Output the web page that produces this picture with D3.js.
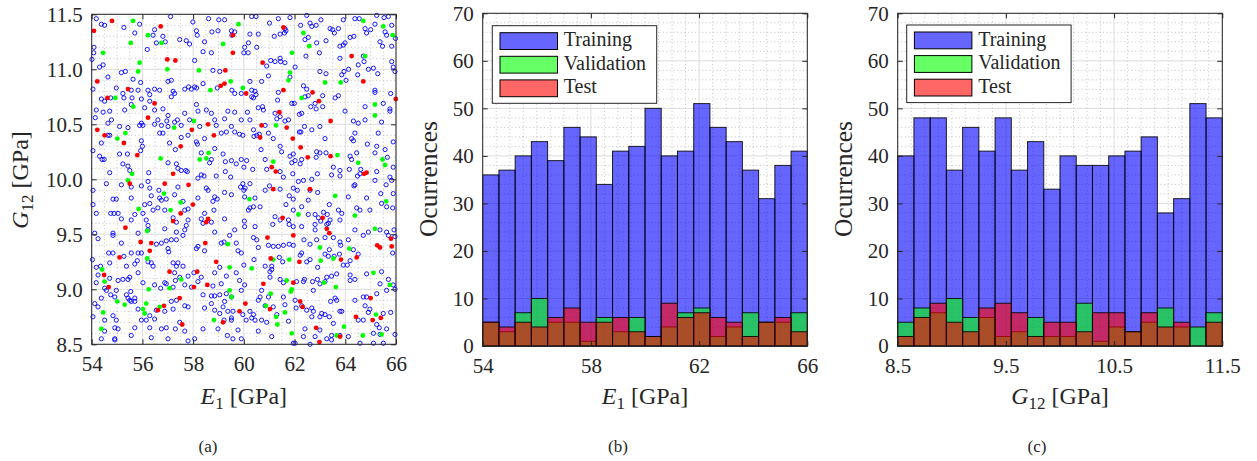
<!DOCTYPE html>
<html>
<head>
<meta charset="utf-8">
<script src="https://cdn.jsdelivr.net/npm/d3@7"></script>
<style>
  body { margin: 0; background: #fff; }
  svg text { font-family: "Liberation Serif", "DejaVu Serif", serif; }
</style>
</head>
<body>
<svg id="fig" width="1257" height="461"></svg>
<script>
// ---------- data ----------
// Sample points [E1, G12] in GPa
const trainingPoints = [
  [54.18,11.46],[54.38,11.41],[54.51,11.40],[54.09,11.20],[54.08,11.15],[54.01,11.09],[54.45,11.04],[54.31,11.02],[55.27,11.38],[55.89,11.41],[55.70,11.33],[56.48,11.36],[56.42,11.31],[56.81,11.30],[56.90,11.25],[56.55,11.24],[56.19,11.18],[57.11,11.48],[57.47,11.27],[57.73,11.26],[57.86,11.23],[57.99,11.43],[58.13,11.35],[58.16,11.31],[58.45,11.25],[58.61,11.46],[58.74,11.34],[58.98,11.35],[59.01,11.45],[59.24,11.45],[59.51,11.35],[59.53,11.31],[59.64,11.34],[60.03,11.20],[60.00,11.15],[58.39,11.16],[58.72,11.15],[58.06,11.08],[58.78,10.99],[59.05,10.98],[55.17,10.97],[55.33,10.98],[55.63,10.91],[54.64,10.93],[54.05,10.82],[54.97,10.83],[55.56,10.81],[55.83,10.81],[55.93,10.88],[56.22,10.81],[56.68,10.81],[57.21,10.80],[57.67,10.82],[57.82,10.84],[57.93,10.82],[58.06,10.84],[58.14,10.83],[58.39,10.87],[58.95,10.83],[59.53,10.81],[59.64,10.78],[59.90,10.78],[57.01,10.89],[57.14,10.90],[54.38,10.73],[54.51,10.71],[54.75,10.74],[55.23,10.78],[55.27,10.74],[55.59,10.74],[55.96,10.73],[56.29,10.77],[56.29,10.71],[56.48,10.82],[57.14,10.75],[57.27,10.78],[54.18,10.63],[54.45,10.61],[54.71,10.62],[54.78,10.54],[54.14,10.56],[54.64,10.51],[55.30,10.63],[55.56,10.68],[56.09,10.65],[56.48,10.63],[56.81,10.64],[57.01,10.58],[56.96,10.53],[57.27,10.52],[57.38,10.54],[57.67,10.60],[58.13,10.68],[58.19,10.62],[57.86,10.54],[58.52,10.63],[58.72,10.60],[58.85,10.54],[59.24,10.55],[59.37,10.62],[59.64,10.61],[59.90,10.54],[55.96,10.51],[56.61,10.54],[56.48,10.50],
  [60.31,11.48],[60.48,11.48],[61.01,11.42],[61.36,11.46],[61.82,11.47],[62.48,11.49],[62.24,11.40],[62.61,11.42],[62.68,11.39],[62.85,11.40],[63.04,11.45],[63.40,11.37],[63.50,11.36],[63.57,11.33],[63.73,11.37],[63.92,11.45],[64.38,11.46],[64.55,11.46],[64.78,11.37],[64.84,11.33],[65.00,11.36],[65.17,11.41],[65.24,11.49],[65.53,11.47],[65.70,11.48],[65.57,11.34],[65.63,11.31],[65.83,11.40],[65.98,11.28],[60.24,11.32],[60.57,11.32],[61.20,11.30],[61.43,11.32],[61.60,11.33],[61.62,11.37],[61.66,11.35],[62.41,11.27],[62.54,11.29],[62.87,11.24],[63.24,11.26],[63.79,11.21],[63.92,11.22],[63.99,11.24],[64.19,11.29],[64.34,11.30],[65.37,11.25],[65.47,11.21],[65.83,11.21],[60.18,11.24],[60.51,11.20],[60.17,11.15],[61.06,11.08],[61.23,11.07],[61.43,11.10],[61.45,11.07],[61.62,11.06],[60.90,11.03],[62.45,11.12],[62.98,11.15],[63.79,11.10],[64.71,11.12],[64.74,11.07],[64.51,11.04],[64.91,11.00],[65.11,11.01],[65.28,10.96],[65.83,11.07],[65.89,11.02],[65.96,10.98],[62.02,11.02],[61.82,10.93],[60.97,10.94],[60.70,10.89],[60.24,10.89],[63.00,10.98],[63.24,10.96],[63.86,10.95],[63.95,10.98],[64.13,11.00],[64.03,10.90],[64.49,10.95],[62.48,10.82],[62.35,10.85],[60.31,10.81],[60.44,10.80],[60.48,10.77],[60.31,10.75],[60.38,10.74],[61.36,10.79],[61.33,10.72],[61.89,10.69],[61.99,10.69],[62.41,10.75],[62.54,10.76],[63.11,10.76],[63.60,10.74],[63.73,10.76],[62.81,10.69],[62.64,10.66],[62.85,10.64],[63.11,10.66],[62.28,10.60],[62.19,10.59],[61.76,10.54],[61.62,10.53],[61.43,10.57],[61.23,10.60],[61.30,10.55],[60.57,10.65],[60.74,10.66],[60.77,10.63],[60.14,10.61],[60.24,10.54],[60.84,10.49],[63.99,10.62],[64.32,10.53],[64.51,10.51],[65.17,10.81],[65.17,10.79],[65.79,10.78],[65.50,10.69],[65.76,10.64],[65.76,10.62],[65.43,10.52],[64.78,10.54],[64.78,10.66],
  [55.10,10.48],[55.43,10.47],[55.89,10.49],[56.02,10.49],[56.75,10.49],[57.01,10.48],[57.53,10.49],[58.26,10.48],[58.91,10.49],[59.51,10.48],[59.11,10.42],[59.31,10.43],[59.64,10.43],[59.83,10.41],[59.96,10.40],[54.64,10.40],[54.71,10.40],[54.38,10.33],[54.05,10.26],[54.31,10.21],[54.41,10.18],[54.49,10.18],[55.10,10.23],[55.41,10.23],[55.96,10.35],[56.00,10.30],[55.93,10.26],[56.68,10.42],[56.81,10.42],[57.07,10.33],[57.30,10.27],[57.53,10.38],[57.80,10.40],[58.13,10.34],[58.17,10.32],[58.45,10.37],[58.32,10.24],[58.85,10.28],[59.18,10.23],[59.27,10.16],[59.51,10.17],[59.70,10.14],[59.90,10.18],[60.00,10.11],[58.72,10.18],[58.65,10.15],[58.32,10.04],[58.43,10.03],[58.91,10.03],[59.27,10.07],[59.48,10.02],[57.34,10.14],[57.40,10.10],[57.53,10.08],[57.71,10.08],[57.77,10.07],[57.01,10.15],[55.23,10.14],[55.43,10.12],[55.50,10.08],[56.25,10.06],[54.71,10.06],[54.58,9.96],[55.17,9.95],[55.56,9.93],[55.96,9.94],[56.22,9.98],[56.29,9.92],[57.40,9.93],[56.65,9.90],[58.19,10.01],[58.52,9.92],[58.59,9.90],[58.85,9.84],[58.95,9.82],[59.24,9.88],[59.51,9.86],[59.87,9.93],[59.96,9.96],[60.00,9.90],[60.03,9.84],[54.05,9.90],[54.05,9.77],[54.84,9.82],[54.97,9.82],[55.56,9.83],[56.35,9.85],[56.68,9.83],[56.75,9.81],[56.94,9.82],[57.27,9.86],[56.09,9.77],[56.29,9.78],[56.42,9.72],[56.61,9.74],[58.19,9.83],[57.80,9.73],[57.60,9.80],[57.67,9.72],[58.78,9.80],[58.82,9.72],[58.45,9.69],[54.18,9.69],[54.75,9.69],[54.88,9.69],[55.04,9.69],[55.17,9.64],[55.56,9.63],[55.70,9.68],[56.02,9.69],[56.15,9.63],[56.22,9.58],[56.88,9.72],[57.21,9.65],[57.34,9.61],[57.80,9.63],[58.32,9.64],[58.39,9.60],[58.72,9.61],[59.24,9.64],[60.03,9.57],[54.12,9.51],[54.84,9.51],[55.83,9.51],[56.22,9.54],[56.88,9.55],[57.34,9.52],[57.67,9.54],[57.73,9.58],[58.85,9.52],[59.64,9.54],
  [60.38,10.45],[60.40,10.39],[60.51,10.40],[60.61,10.41],[61.16,10.37],[61.43,10.30],[61.49,10.25],[60.68,10.27],[60.97,10.42],[61.82,10.21],[61.95,10.23],[61.89,10.15],[62.02,10.17],[62.22,10.14],[62.28,10.18],[62.19,10.43],[62.25,10.43],[62.39,10.48],[62.68,10.45],[63.00,10.48],[63.20,10.37],[62.87,10.25],[63.00,10.24],[63.24,10.24],[62.85,10.20],[63.53,10.11],[63.79,10.08],[63.46,10.04],[63.79,10.03],[62.90,10.05],[62.68,10.00],[62.35,9.99],[62.15,9.98],[61.93,10.05],[61.56,10.02],[61.43,10.07],[60.90,10.09],[60.84,10.18],[60.35,10.09],[60.11,10.17],[60.24,9.96],[60.05,9.92],[60.84,9.90],[61.01,9.94],[61.43,9.91],[61.95,9.92],[62.11,9.90],[62.61,9.90],[62.91,9.88],[62.54,9.81],[61.95,9.82],[61.79,9.85],[60.44,9.83],[60.38,9.75],[60.24,9.74],[60.18,9.72],[60.64,9.75],[61.66,9.77],[61.95,9.72],[62.28,9.75],[62.54,9.68],[62.81,9.68],[62.94,9.65],[63.03,9.62],[62.81,9.59],[63.29,9.68],[63.37,9.77],[63.40,9.63],[63.33,9.60],[63.14,9.70],[63.73,9.72],[63.86,9.69],[64.12,9.84],[64.45,9.74],[64.58,9.72],[64.97,9.72],[64.84,9.83],[65.40,9.87],[65.43,9.78],[65.63,9.75],[65.87,9.74],[65.83,9.99],[65.61,9.95],[65.89,9.87],[65.89,10.11],[65.66,10.20],[65.57,10.27],[65.24,10.30],[65.17,10.24],[64.87,10.32],[64.45,10.24],[64.25,10.37],[64.32,10.35],[64.38,10.42],[65.30,10.42],[65.89,10.34],[64.19,10.21],[64.25,10.18],[64.16,10.09],[64.48,10.03],[64.58,10.05],[64.61,10.09],[64.38,9.95],[64.34,9.94],[65.17,9.99],[65.24,10.07],[65.76,10.02],[61.23,9.66],[61.43,9.63],[61.76,9.63],[61.95,9.57],[62.28,9.57],[62.81,9.54],[63.27,9.59],[60.02,9.62],[60.44,9.57],[61.14,9.59],[64.38,9.54],[64.91,9.52],[65.37,9.54],[65.63,9.52],[65.92,9.54],[63.79,9.63],[61.79,9.59],
  [54.84,9.49],[55.17,9.42],[57.14,9.45],[57.34,9.45],[57.60,9.49],[57.01,9.37],[57.04,9.34],[54.25,9.46],[54.67,9.33],[54.84,9.33],[55.56,9.33],[55.83,9.33],[55.96,9.33],[55.27,9.30],[54.03,9.27],[54.18,9.20],[54.25,9.13],[54.35,9.21],[54.71,9.24],[55.37,9.21],[55.70,9.23],[55.80,9.26],[56.22,9.25],[56.35,9.24],[56.42,9.21],[56.55,9.41],[56.75,9.42],[56.94,9.44],[55.83,9.15],[55.50,9.11],[55.43,9.09],[55.23,9.09],[55.04,9.08],[54.71,9.10],[54.18,9.06],[54.51,9.01],[54.58,8.99],[54.97,8.99],[55.54,8.98],[56.02,9.06],[56.48,9.04],[56.72,9.01],[56.88,9.06],[56.94,9.05],[57.21,9.24],[57.34,9.21],[57.40,9.24],[57.60,9.21],[57.80,9.12],[58.03,9.15],[57.27,9.15],[57.30,9.08],[57.47,9.11],[57.21,9.02],[57.67,9.04],[57.93,9.02],[58.19,9.07],[58.32,9.11],[58.19,9.39],[58.45,9.35],[58.13,9.37],[59.11,9.42],[59.22,9.43],[59.44,9.49],[59.70,9.42],[59.77,9.35],[59.90,9.33],[60.00,9.22],[59.70,9.15],[59.83,9.08],[59.05,9.20],[58.85,9.15],[59.31,9.12],[59.11,9.05],[58.78,9.03],[58.39,8.95],[58.72,8.94],[58.85,8.94],[59.05,8.95],[59.31,8.96],[59.24,8.89],[59.51,8.93],[59.90,8.99],[60.03,9.04],[54.38,8.92],[54.75,8.95],[54.91,8.93],[55.37,8.95],[55.43,8.92],[55.50,8.90],[55.56,8.89],[55.70,8.89],[55.83,8.82],[55.70,8.92],[54.25,8.84],[54.12,8.87],[54.05,8.75],[54.84,8.76],[54.97,8.72],[54.51,8.72],[54.91,8.65],[55.04,8.64],[55.70,8.65],[55.96,8.72],[56.15,8.72],[56.29,8.76],[56.48,8.73],[56.55,8.81],[56.88,8.80],[57.21,8.82],[57.14,8.89],[57.34,8.90],[57.67,8.85],[57.80,8.84],[58.45,8.83],[58.72,8.87],[58.85,8.81],[59.05,8.78],[59.18,8.84],[59.37,8.80],[59.57,8.80],[59.51,8.72],[59.96,8.77],[56.29,8.65],[56.75,8.64],[56.94,8.65],[57.01,8.55],[57.30,8.64],[57.67,8.62],[57.47,8.70],[58.39,8.64],[58.98,8.64],[59.22,8.72],[59.51,8.74],[59.77,8.63],[59.35,8.58],[59.57,8.55],[59.90,8.55],[58.06,8.55],[57.80,8.53],[56.35,8.56],[55.56,8.58],[54.91,8.55],[54.91,8.54],[54.51,8.62],[54.38,8.55],
  [60.38,9.47],[60.51,9.45],[60.57,9.38],[60.97,9.40],[61.16,9.39],[61.36,9.39],[61.56,9.40],[61.79,9.41],[61.95,9.40],[62.37,9.45],[62.61,9.41],[62.87,9.45],[63.20,9.47],[63.53,9.47],[63.79,9.43],[63.82,9.40],[64.12,9.45],[64.71,9.49],[64.32,9.36],[64.51,9.32],[65.70,9.49],[65.96,9.48],[65.87,9.33],[60.40,9.27],[60.84,9.21],[61.10,9.21],[61.03,9.16],[61.40,9.29],[61.53,9.25],[62.22,9.31],[62.28,9.33],[62.48,9.25],[62.61,9.27],[62.91,9.20],[63.20,9.32],[63.33,9.30],[63.37,9.36],[63.56,9.30],[63.77,9.32],[63.92,9.22],[64.19,9.26],[64.08,9.22],[63.66,9.14],[63.46,9.12],[63.27,9.11],[63.20,9.07],[62.90,9.09],[62.71,9.07],[63.00,9.05],[62.39,9.09],[62.35,9.07],[62.08,9.07],[61.56,9.06],[61.43,9.09],[61.03,9.11],[61.10,9.18],[60.70,8.99],[60.64,8.93],[60.57,8.90],[60.97,8.93],[60.84,8.85],[60.38,8.77],[60.31,8.74],[60.44,8.72],[60.70,8.72],[60.24,8.80],[60.09,8.72],[61.16,8.84],[61.30,8.77],[61.62,8.86],[62.02,8.90],[62.28,8.85],[62.06,8.83],[62.48,8.81],[62.68,8.83],[62.74,8.80],[62.68,8.75],[63.00,8.75],[63.07,8.78],[63.20,8.77],[63.37,8.75],[63.42,8.89],[63.60,8.92],[63.66,8.90],[63.79,8.80],[63.86,8.80],[63.53,8.69],[63.00,8.63],[62.41,8.64],[62.35,8.57],[61.95,8.51],[62.02,8.51],[62.61,8.50],[63.27,8.55],[63.46,8.58],[63.79,8.58],[64.12,8.57],[60.90,8.70],[60.57,8.62],[61.10,8.57],[64.19,9.13],[64.19,9.08],[64.38,9.09],[64.84,9.14],[65.43,9.16],[65.70,9.09],[65.89,9.04],[65.96,9.00],[65.37,9.05],[65.63,8.99],[65.24,8.96],[64.84,8.93],[64.71,8.93],[64.38,8.90],[64.78,8.85],[64.97,8.82],[64.71,8.72],[64.51,8.72],[64.91,8.79],[65.50,8.78],[65.79,8.79],[65.24,8.68],[65.34,8.65],[65.63,8.64],[65.37,8.59],[65.11,8.60],[65.96,8.59],[64.58,8.51],[65.11,8.51],[65.50,8.51],[63.46,8.54],[62.81,8.57],[61.76,8.71],[61.56,8.93],[62.74,8.99]
];
const validationPoints = [
  [55.63,11.44],[59.79,11.41],[56.22,11.31],[55.54,11.24],[56.75,11.24],[59.18,11.23],[54.45,11.15],[55.89,11.06],[55.83,10.98],[56.98,11.00],[58.23,10.99],[59.48,10.89],[59.96,10.83],[58.68,10.81],[54.93,10.74],[55.64,10.66],[58.03,10.53],
  [62.35,11.33],[65.87,11.31],[65.50,11.39],[64.71,11.44],[62.58,11.21],[61.90,11.15],[64.78,11.12],[61.82,10.97],[61.76,10.90],[63.20,10.88],[63.82,10.88],[62.28,10.74],[65.17,10.68],[65.17,10.58],[61.27,10.49],
  [55.33,10.42],[55.01,10.37],[57.25,10.47],[56.72,10.19],[55.59,10.05],[55.43,9.99],[58.26,10.18],[58.52,10.19],[58.61,10.24],[56.85,9.87],[57.51,9.79],[57.11,9.72],[55.85,9.73],[56.19,9.53],
  [63.69,10.22],[64.51,10.15],[65.47,10.18],[65.57,10.13],[61.16,10.16],[63.60,9.85],[60.22,9.82],[65.61,9.80],[64.38,9.67],[62.15,9.68],[65.17,9.55],
  [59.37,9.41],[56.19,9.28],[54.41,9.18],[54.51,9.07],[57.53,9.09],[56.25,9.00],[57.07,9.01],[59.44,9.20],[59.44,8.99],[59.51,8.93],[55.01,8.89],[55.30,8.86],[56.15,8.87],[56.68,8.84],[56.02,8.82],[56.09,8.78],[54.45,8.79],[58.82,8.72],[54.38,8.64],
  [63.00,9.38],[64.16,9.37],[60.31,9.19],[61.16,9.27],[61.79,9.27],[63.03,9.26],[63.53,9.28],[65.11,9.15],[61.69,9.08],[63.16,9.06],[65.76,9.04],[63.63,9.02],[61.89,9.00],[61.85,8.98],[61.06,8.96],[60.87,8.85],[61.27,8.75],[61.62,8.79],[65.21,8.77],[61.32,8.68],[61.89,8.60],[63.95,8.66],[63.66,8.58],[64.69,8.58],[65.43,8.59]
];
const testPoints = [
  [54.80,11.44],[54.09,11.35],[56.72,11.39],[59.57,11.31],[56.98,11.09],[57.30,11.08],[59.27,10.99],[54.22,10.89],[55.43,10.82],[54.62,10.74],[56.48,10.69],[56.22,10.56],[58.59,10.50],[59.09,10.85],[59.24,10.87],[59.57,11.15],
  [61.56,11.38],[60.74,11.06],[64.25,11.12],[64.71,10.89],[61.56,10.81],[62.71,10.79],[60.09,10.78],[62.96,10.71],[61.40,10.61],[63.42,10.53],[65.99,10.73],[60.70,10.49],
  [54.22,10.45],[54.51,10.40],[55.27,10.33],[55.80,10.22],[57.95,10.45],[58.82,10.40],[57.51,10.30],[57.21,10.05],[55.50,9.96],[56.88,9.96],[57.82,9.95],[57.99,9.77],[57.51,9.69],[57.21,9.62],[58.59,9.64],[58.52,9.61],[55.33,9.56],
  [61.69,10.47],[60.64,10.38],[61.93,10.37],[62.24,10.29],[62.52,10.20],[63.42,10.21],[61.10,10.11],[61.26,10.07],[64.84,10.06],[64.74,10.05],[61.16,9.91],[62.61,9.91],[61.53,9.65],[63.11,9.65],[63.27,9.55],[63.37,9.51],[61.95,9.49],
  [55.93,9.43],[56.35,9.42],[56.29,9.35],[55.10,9.29],[58.48,9.42],[58.91,9.25],[57.07,9.16],[58.16,9.16],[54.49,9.13],[54.67,9.02],[58.56,9.04],[58.03,9.02],[57.47,8.92],[56.85,8.85],[56.61,8.81],[57.57,8.68],[59.18,8.70],[60.06,8.87],[59.83,8.80],
  [60.93,9.47],[61.06,9.28],[62.19,9.25],[63.83,9.27],[64.45,9.29],[65.26,9.40],[65.37,9.38],[65.83,9.39],[65.80,9.46],[60.77,9.05],[61.95,9.06],[61.03,8.82],[62.22,8.89],[62.32,8.84],[64.42,8.75],[65.00,8.92],[65.08,8.72],[65.40,8.74],[62.85,8.65],[63.79,8.57],[62.98,8.52]
];

// Histogram bins and counts
const e1BinEdges  = [54,54.6,55.2,55.8,56.4,57,57.6,58.2,58.8,59.4,60,60.6,61.2,61.8,62.4,63,63.6,64.2,64.8,65.4,66];
const e1Training   = [36,37,40,43,39,46,44,34,41,42,50,40,41,51,46,43,37,31,38,41];
const e1Validation = [5,3,7,10,5,5,1,6,3,6,2,4,7,8,2,4,7,5,5,7];
const e1Test       = [5,4,5,4,6,8,5,5,6,3,2,9,6,7,6,5,2,5,6,3];

const g12BinEdges  = [8.5,8.65,8.8,8.95,9.1,9.25,9.4,9.55,9.7,9.85,10,10.15,10.3,10.45,10.6,10.75,10.9,11.05,11.2,11.35,11.5];
const g12Training   = [40,48,48,37,46,41,48,37,43,33,40,38,38,40,41,44,28,31,51,48];
const g12Validation = [5,8,7,10,6,6,2,3,6,2,2,9,1,4,3,5,8,4,4,7];
const g12Test       = [2,6,9,5,3,8,9,7,2,5,5,3,7,7,3,7,4,5,0,5];

const seriesNames = ["Training", "Validation", "Test"];

const e1Ticks  = [54,56,58,60,62,64,66];
const g12Ticks = [8.5,9.0,9.5,10.0,10.5,11.0,11.5];
const e1HistTicks  = [54,58,62,66];
const g12HistTicks = [8.5,9.5,10.5,11.5];
const countTicks   = [0,10,20,30,40,50,60,70];

// ---------- drawing ----------
const svg = d3.select("#fig");
const ink = "#262626";
const fills = ["#0000ff", "#00ff00", "#ff0000"];
const fontFam = '"Liberation Serif", "DejaVu Serif", serif';

function drawGrid(x, y, xMajor, yMajor, xMinor, yMinor) {
  const g = svg.append("g");
  const [xa, xb] = x.range(), [ya, yb] = y.range();
  const minor = g.append("g").attr("stroke", "#b4b4b4").attr("stroke-width", 0.8)
    .attr("stroke-dasharray", "1 2.6");
  minor.selectAll("line.vx").data(xMinor).join("line")
    .attr("x1", d => x(d)).attr("x2", d => x(d)).attr("y1", ya).attr("y2", yb);
  minor.selectAll("line.hy").data(yMinor).join("line")
    .attr("y1", d => y(d)).attr("y2", d => y(d)).attr("x1", xa).attr("x2", xb);
  const major = g.append("g").attr("stroke", "#dcdcdc").attr("stroke-width", 1);
  major.selectAll("line.vx").data(xMajor).join("line")
    .attr("x1", d => x(d)).attr("x2", d => x(d)).attr("y1", ya).attr("y2", yb);
  major.selectAll("line.hy").data(yMajor).join("line")
    .attr("y1", d => y(d)).attr("y2", d => y(d)).attr("x1", xa).attr("x2", xb);
}

function drawFrame(x, y, xTicks, yTicks, xFmt, yFmt) {
  const [xa, xb] = x.range(), [ya, yb] = y.range();
  const g = svg.append("g").attr("color", ink);
  const style = sel => {
    sel.attr("font-family", fontFam).attr("font-size", 21);
    sel.select(".domain").remove();
    sel.selectAll(".tick line").attr("stroke-width", 1);
  };
  g.append("g").attr("transform", `translate(0,${ya})`)
    .call(d3.axisBottom(x).tickValues(xTicks).tickFormat(xFmt).tickSize(-5).tickPadding(12)).call(style);
  g.append("g").attr("transform", `translate(0,${yb})`)
    .call(d3.axisTop(x).tickValues(xTicks).tickFormat("").tickSize(-5)).call(style);
  g.append("g").attr("transform", `translate(${xa},0)`)
    .call(d3.axisLeft(y).tickValues(yTicks).tickFormat(yFmt).tickSize(-5).tickPadding(9)).call(style);
  g.append("g").attr("transform", `translate(${xb},0)`)
    .call(d3.axisRight(y).tickValues(yTicks).tickFormat("").tickSize(-5)).call(style);
  g.append("rect").attr("x", xa).attr("y", yb).attr("width", xb - xa).attr("height", ya - yb)
    .attr("fill", "none").attr("stroke", ink).attr("stroke-width", 1);
}

function axisLabel(cx, cy, rotate, parts, size = 24) {
  const t = svg.append("text")
    .attr("transform", `translate(${cx},${cy}) rotate(${rotate})`)
    .attr("text-anchor", "middle").attr("font-size", size).attr("fill", ink);
  parts.forEach(p => {
    const s = t.append("tspan").text(p.text);
    if (p.italic) s.attr("font-style", "italic");
    if (p.sub) s.attr("font-size", 17).attr("dy", 5);
    if (p.after) s.attr("dy", -5);
  });
}

function caption(cx, label) {
  svg.append("text").attr("x", cx).attr("y", 452).attr("text-anchor", "middle")
    .attr("font-size", 17).attr("fill", ink).text(label);
}

const e1Label  = [{text: "E", italic: true}, {text: "1", sub: true}, {text: " [GPa]", after: true}];
const g12Label = [{text: "G", italic: true}, {text: "12", sub: true}, {text: " [GPa]", after: true}];

// ---- (a) scatter of samples ----
{
  const x = d3.scaleLinear().domain([54, 66]).range([91.7, 396]);
  const y = d3.scaleLinear().domain([8.5, 11.5]).range([344.3, 14.3]);
  drawGrid(x, y, e1Ticks, g12Ticks,
    d3.range(54, 66.01, 0.5).filter(v => v % 2 !== 0),
    d3.range(85, 115.1, 1).map(v => v / 10).filter(v => Math.round(v * 10) % 5 !== 0));
  const pts = svg.append("g");
  pts.selectAll("circle.tr").data(trainingPoints).join("circle")
    .attr("cx", d => x(d[0])).attr("cy", d => y(d[1])).attr("r", 2.1)
    .attr("fill", "none").attr("stroke", fills[0]).attr("stroke-width", 0.9);
  pts.selectAll("circle.va").data(validationPoints).join("circle")
    .attr("cx", d => x(d[0])).attr("cy", d => y(d[1])).attr("r", 2.4).attr("fill", fills[1]);
  pts.selectAll("circle.te").data(testPoints).join("circle")
    .attr("cx", d => x(d[0])).attr("cy", d => y(d[1])).attr("r", 2.4).attr("fill", fills[2]);
  drawFrame(x, y, e1Ticks, g12Ticks, d3.format("d"), d3.format(".1f"));
  axisLabel(243.8, 404, 0, e1Label);
  axisLabel(28, 180, -90, g12Label);
  caption(208, "(a)");
}

function histogramPanel(x, edges, counts, xTicks, xMinor, xFmt, xLabel, legendPos, capX, capLabel, yLabelX) {
  const y = d3.scaleLinear().domain([0, 70]).range([346, 13.3]);
  drawGrid(x, y, xTicks, countTicks, xMinor, d3.range(2, 70, 2).filter(v => v % 10 !== 0));
  counts.forEach((series, s) => {
    svg.append("g").selectAll("rect").data(series.map((c, i) => ({c, i})).filter(d => d.c > 0)).join("rect")
      .attr("x", d => x(edges[d.i])).attr("width", d => x(edges[d.i + 1]) - x(edges[d.i]))
      .attr("y", d => y(d.c)).attr("height", d => y(0) - y(d.c))
      .attr("fill", fills[s]).attr("fill-opacity", 0.6)
      .attr("stroke", "#000").attr("stroke-opacity", 0.85).attr("stroke-width", 1);
  });
  drawFrame(x, y, xTicks, countTicks, xFmt, d3.format("d"));
  axisLabel((x.range()[0] + x.range()[1]) / 2, 404, 0, xLabel);
  axisLabel(yLabelX, 179, -90, [{text: "Ocurrences"}], 25.5);
  caption(capX, capLabel);

  const lg = svg.append("g").attr("transform", `translate(${legendPos[0]},${legendPos[1]})`);
  lg.append("rect").attr("width", 164.4).attr("height", 77.6)
    .attr("fill", "#fff").attr("stroke", ink).attr("stroke-width", 1);
  seriesNames.forEach((name, i) => {
    lg.append("rect").attr("x", 7.7).attr("y", 7 + i * 23.6).attr("width", 57.5).attr("height", 16.8)
      .attr("fill", fills[i]).attr("fill-opacity", 0.6).attr("stroke", "#000").attr("stroke-width", 1);
    lg.append("text").attr("x", 71.5).attr("y", 20.5 + i * 23.5)
      .attr("font-size", 20).attr("fill", ink).text(name);
  });
}

// ---- (b) E1 histogram ----
histogramPanel(
  d3.scaleLinear().domain([54, 66]).range([482.7, 807.3]),
  e1BinEdges, [e1Training, e1Validation, e1Test],
  e1HistTicks, d3.range(54, 66.01, 0.5).filter(v => (v - 54) % 4 !== 0),
  d3.format("d"), e1Label, [492.3, 25.7], 618, "(b)", 437);

// ---- (c) G12 histogram ----
histogramPanel(
  d3.scaleLinear().domain([8.5, 11.5]).range([897.7, 1222.3]),
  g12BinEdges, [g12Training, g12Validation, g12Test],
  g12HistTicks, d3.range(0, 24.5, 1).map(k => 8.5 + k * 0.125).filter((v, k) => k % 8 !== 0),
  d3.format(".1f"), g12Label, [906.7, 25], 1037, "(c)", 852);
</script>
</body>
</html>
